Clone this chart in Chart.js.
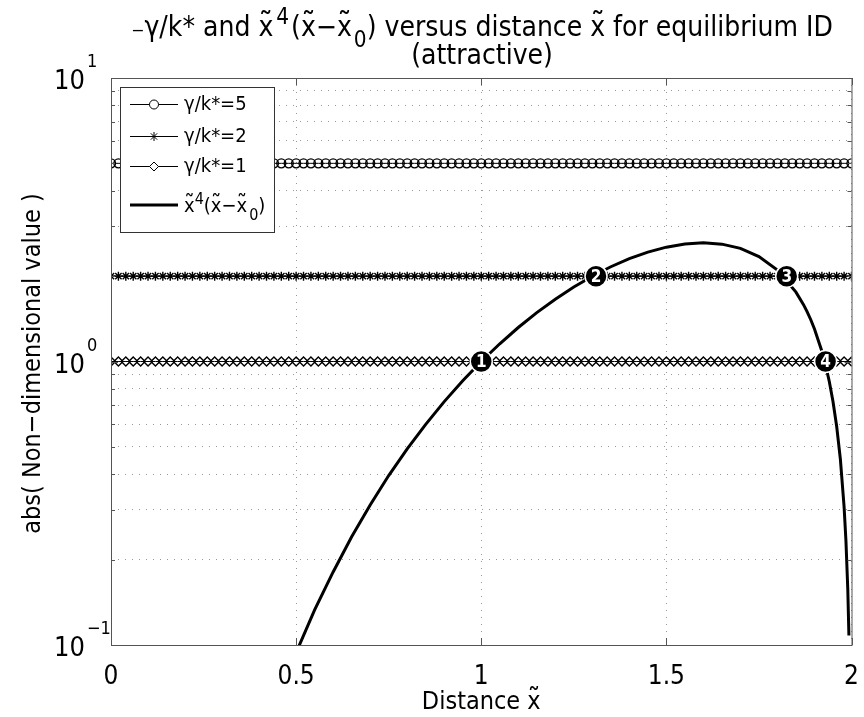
<!DOCTYPE html>
<html>
<head>
<meta charset="utf-8">
<script src="https://cdn.jsdelivr.net/npm/chart.js@4"></script>
<style>
  body { margin: 0; background: #fff; }
  canvas { display: block; }
</style>
</head>
<body>
<canvas id="eqChart" width="864" height="717"></canvas>
<script>
// Sample positions along the distance axis for the gamma/k* reference lines
const xSamples = [0, 0.02, 0.04, 0.06, 0.08, 0.1, 0.12, 0.14, 0.16, 0.18, 0.2, 0.22, 0.24, 0.26, 0.28,
  0.3, 0.32, 0.34, 0.36, 0.38, 0.4, 0.42, 0.44, 0.46, 0.48, 0.5, 0.52, 0.54, 0.56, 0.58, 0.6, 0.62,
  0.64, 0.66, 0.68, 0.7, 0.72, 0.74, 0.76, 0.78, 0.8, 0.82, 0.84, 0.86, 0.88, 0.9, 0.92, 0.94, 0.96,
  0.98, 1, 1.02, 1.04, 1.06, 1.08, 1.1, 1.12, 1.14, 1.16, 1.18, 1.2, 1.22, 1.24, 1.26, 1.28, 1.3,
  1.32, 1.34, 1.36, 1.38, 1.4, 1.42, 1.44, 1.46, 1.48, 1.5, 1.52, 1.54, 1.56, 1.58, 1.6, 1.62, 1.64,
  1.66, 1.68, 1.7, 1.72, 1.74, 1.76, 1.78, 1.8, 1.82, 1.84, 1.86, 1.88, 1.9, 1.92, 1.94, 1.96, 1.98, 2];

// gamma/k* levels
const gammaLevels = [5, 2, 1];
const gammaLabels = ['γ/k*=5', 'γ/k*=2', 'γ/k*=1'];
const gammaMarkers = ['circle', 'star', 'rectRot'];

// abs( x^4 (x - x0) ) curve
const curveX = [0.48, 0.5, 0.55, 0.6, 0.65, 0.7, 0.75, 0.8, 0.85, 0.9, 0.95, 1, 1.05, 1.1, 1.15, 1.2,
  1.25, 1.3, 1.35, 1.4, 1.45, 1.5, 1.55, 1.6, 1.65, 1.7, 1.75, 1.8, 1.85, 1.87, 1.88, 1.89, 1.9, 1.92,
  1.93, 1.94, 1.95, 1.96, 1.97, 1.98, 1.985, 1.99, 1.993];
const curveY = [0.081, 0.094, 0.133, 0.181, 0.241, 0.312, 0.396, 0.492, 0.600, 0.722, 0.855, 1.0,
  1.155, 1.318, 1.487, 1.659, 1.831, 1.999, 2.159, 2.305, 2.431, 2.531, 2.597, 2.621, 2.594, 2.506,
  2.345, 2.100, 1.757, 1.590, 1.499, 1.404, 1.303, 1.087, 0.971, 0.850, 0.723, 0.590, 0.452, 0.307,
  0.233, 0.157, 0.108];

// numbered equilibrium points
const crossX = [1.0, 1.31, 1.825, 1.93];
const crossY = [1, 2, 2, 1];
const crossLabels = ['1', '2', '3', '4'];

// axis ticks
const xTicks = [0, 0.5, 1, 1.5, 2];
const yTicks = [0.1, 0.2, 0.3, 0.4, 0.5, 0.6, 0.7, 0.8, 0.9, 1, 2, 3, 4, 5, 6, 7, 8, 9, 10];
const yMajor = [0.1, 1, 10];
const yMajorExp = ['−1', '0', '1'];

const FONT = '"DejaVu Sans Condensed", "DejaVu Sans", sans-serif';

// draws a run of text pieces; {t, sup}, {t, sub}, {t, tilde}
function richWidth(ctx, parts, size) {
  let w = 0;
  parts.forEach(p => {
    ctx.font = (p.sup || p.sub ? size * 0.8 : size) + 'px ' + FONT;
    w += ctx.measureText(p.t).width + (p.gap || 0);
  });
  return w;
}
function drawRich(ctx, parts, x, y, size, align) {
  let cx = x;
  if (align === 'center') cx = x - richWidth(ctx, parts, size) / 2;
  ctx.textAlign = 'left';
  ctx.textBaseline = 'alphabetic';
  parts.forEach(p => {
    let s = p.sup || p.sub ? size * 0.8 : size;
    let dy = p.sup ? -size * 0.42 : p.sub ? size * 0.38 : 0;
    ctx.font = s + 'px ' + FONT;
    ctx.fillText(p.t, cx, y + dy);
    let w = ctx.measureText(p.t).width;
    if (p.tilde) {
      ctx.textAlign = 'center';
      ctx.font = (s * 1.15) + 'px ' + FONT;
      ctx.fillText('˜', cx + w / 2, y + dy - size * 0.04);
      ctx.font = s + 'px ' + FONT;
      ctx.textAlign = 'left';
    }
    cx += w + (p.gap || 0);
  });
}

const textPlugin = {
  id: 'matlabText',
  afterDatasetsDraw(chart) {
    const ctx = chart.ctx;
    const xs = chart.scales.x, ys = chart.scales.y;
    const a = chart.chartArea;
    ctx.save();

    // numbers inside the equilibrium markers
    const meta = chart.getDatasetMeta(0);
    ctx.fillStyle = '#fff';
    ctx.font = 'bold 17px ' + FONT;
    ctx.textAlign = 'center';
    ctx.textBaseline = 'middle';
    meta.data.forEach((pt, i) => ctx.fillText(crossLabels[i], pt.x, pt.y + 1));

    // axes box and inward tick marks
    ctx.strokeStyle = '#555';
    ctx.lineWidth = 1;
    ctx.strokeRect(a.left + 0.5, a.top + 0.5, a.right - a.left, a.bottom - a.top);
    ctx.beginPath();
    xTicks.forEach(v => {
      const px = Math.round(xs.getPixelForValue(v)) + 0.5;
      ctx.moveTo(px, a.bottom); ctx.lineTo(px, a.bottom - 7);
      ctx.moveTo(px, a.top); ctx.lineTo(px, a.top + 7);
    });
    yTicks.forEach(v => {
      const py = Math.round(ys.getPixelForValue(v)) + 0.5;
      const len = yMajor.includes(v) ? 7 : 4;
      ctx.moveTo(a.left, py); ctx.lineTo(a.left + len, py);
      ctx.moveTo(a.right, py); ctx.lineTo(a.right - len, py);
    });
    ctx.stroke();

    // legend
    const lx = 120, ly = 87, lw = 154, lh = 145;
    ctx.fillStyle = '#fff';
    ctx.fillRect(lx, ly, lw, lh);
    ctx.strokeStyle = '#333';
    ctx.strokeRect(lx + 0.5, ly + 0.5, lw, lh);
    const rows = [104, 136, 166, 205];
    gammaLabels.forEach((lab, i) => {
      const ry = rows[i];
      ctx.strokeStyle = '#000';
      ctx.lineWidth = 1;
      ctx.beginPath();
      ctx.moveTo(130, ry + 0.5); ctx.lineTo(178, ry + 0.5);
      ctx.stroke();
      ctx.fillStyle = '#fff';
      Chart.helpers.drawPoint(ctx, {
        pointStyle: gammaMarkers[i], radius: 4.5, borderWidth: 1.3, rotation: 0
      }, 154, ry + 0.5);
      ctx.fillStyle = '#000';
      ctx.font = '20px ' + FONT;
      ctx.textAlign = 'left';
      ctx.textBaseline = 'middle';
      ctx.fillText(lab, 184, ry + 1);
    });
    ctx.strokeStyle = '#000';
    ctx.lineWidth = 3;
    ctx.beginPath();
    ctx.moveTo(130, rows[3]); ctx.lineTo(178, rows[3]);
    ctx.stroke();
    ctx.fillStyle = '#000';
    drawRich(ctx, [
      {t: 'x', tilde: true}, {t: '4', sup: true}, {t: '('}, {t: 'x', tilde: true}, {t: '−'},
      {t: 'x', tilde: true, gap: 2}, {t: '0', sub: true}, {t: ')'}
    ], 184, rows[3] + 7, 20, 'left');

    // tick labels
    ctx.font = '26px ' + FONT;
    ctx.textAlign = 'center';
    ctx.textBaseline = 'alphabetic';
    xTicks.forEach(v => ctx.fillText(String(v), xs.getPixelForValue(v), 684));
    yMajor.forEach((v, i) => {
      const py = ys.getPixelForValue(v);
      ctx.font = '27px ' + FONT;
      ctx.textAlign = 'right';
      ctx.fillText('10', 85, py + 11);
      ctx.font = '18px ' + FONT;
      ctx.textAlign = 'left';
      ctx.fillText(yMajorExp[i], 87, py - 11);
    });

    // axis labels
    drawRich(ctx, [{t: 'Distance '}, {t: 'x', tilde: true}], xs.getPixelForValue(1), 709, 25, 'center');
    ctx.save();
    ctx.translate(33, (a.top + a.bottom) / 2 + 2);
    ctx.rotate(-Math.PI / 2);
    ctx.font = '25px ' + FONT;
    ctx.textAlign = 'center';
    ctx.textBaseline = 'middle';
    ctx.fillText('abs( Non−dimensional value )', 0, 0);
    ctx.restore();

    // title
    drawRich(ctx, [
      {t: '₋γ/k* and '}, {t: 'x', tilde: true, gap: 3}, {t: '4', sup: true, gap: 2}, {t: '('},
      {t: 'x', tilde: true}, {t: '−'}, {t: 'x', tilde: true, gap: 2}, {t: '0', sub: true},
      {t: ') versus distance '}, {t: 'x', tilde: true}, {t: ' for equilibrium ID'}
    ], 482, 36, 28, 'center');
    ctx.font = '28px ' + FONT;
    ctx.textAlign = 'center';
    ctx.fillText('(attractive)', 482, 64);
    ctx.restore();
  }
};

const lineSets = gammaLevels.map((lvl, i) => ({
  label: gammaLabels[i],
  data: xSamples.map(x => ({x: x, y: lvl})),
  borderColor: '#000',
  borderWidth: 1,
  pointStyle: gammaMarkers[i],
  pointRadius: 4.5,
  pointBorderWidth: 1.4,
  pointBorderColor: '#000',
  pointBackgroundColor: 'rgba(0,0,0,0)'
}));

const ctx = document.getElementById('eqChart').getContext('2d');
const eqChart = new Chart(ctx, {
  type: 'line',
  data: {
    datasets: [
      {
        label: 'points',
        data: crossX.map((x, i) => ({x: x, y: crossY[i]})),
        showLine: false,
        pointRadius: 11,
        pointBackgroundColor: '#000',
        pointBorderColor: '#fff',
        pointBorderWidth: 1.5
      },
      {
        label: 'x^4(x-x0)',
        data: curveX.map((x, i) => ({x: x, y: curveY[i]})),
        borderColor: '#000',
        borderWidth: 3,
        pointRadius: 0
      },
      ...lineSets
    ]
  },
  options: {
    responsive: false,
    animation: false,
    layout: { padding: { left: 111, right: 9, top: 78, bottom: 72 } },
    plugins: {
      legend: { display: false },
      tooltip: { enabled: false }
    },
    scales: {
      x: {
        type: 'linear',
        min: 0,
        max: 2,
        afterBuildTicks: axis => { axis.ticks = xTicks.map(v => ({value: v})); },
        ticks: { display: false },
        grid: { color: '#999', lineWidth: 1, drawTicks: false },
        border: { display: false, dash: [1, 6] }
      },
      y: {
        type: 'logarithmic',
        min: 0.1,
        max: 10,
        afterBuildTicks: axis => { axis.ticks = yTicks.map(v => ({value: v})); },
        ticks: { display: false },
        grid: { color: '#999', lineWidth: 1, drawTicks: false },
        border: { display: false, dash: [1, 6] }
      }
    }
  },
  plugins: [textPlugin]
});
</script>
</body>
</html>
